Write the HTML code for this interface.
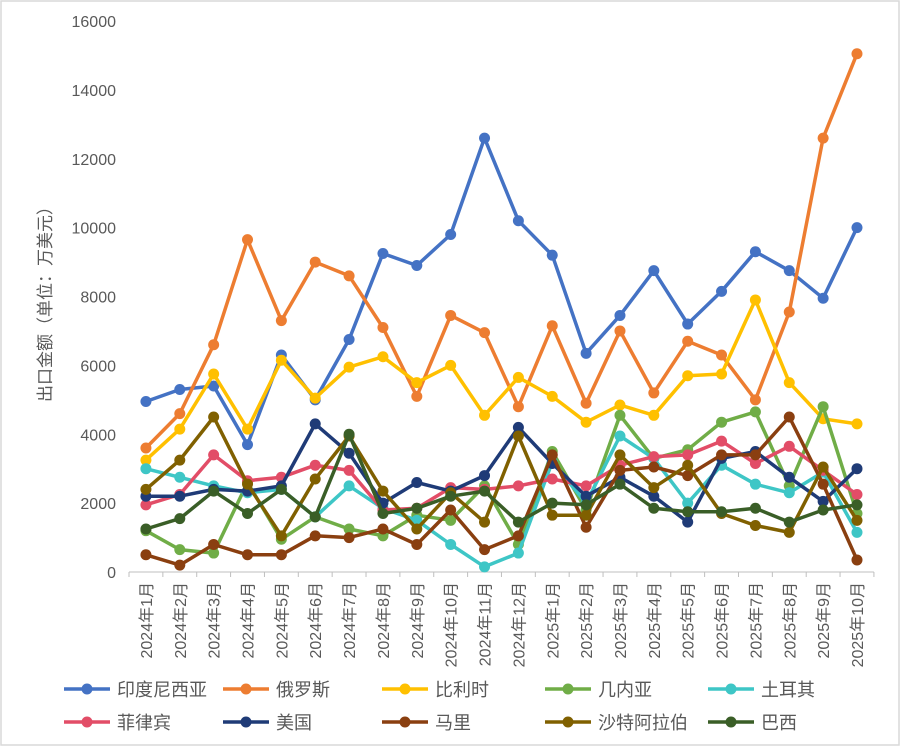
<!DOCTYPE html>
<html><head><meta charset="utf-8"><style>
body{margin:0;background:#fff;}
svg text{font-family:"Liberation Sans","Noto Sans CJK SC",sans-serif;}
</style></head><body>
<svg id="c" width="900" height="746" xmlns="http://www.w3.org/2000/svg">
<rect x="1" y="1" width="898" height="744" fill="#fff" stroke="#d9d9d9" stroke-width="1.5"/>
<g id="g"></g>
</svg>
<script>
const g=document.getElementById('g');
let h='';
const y0=572,ppu=551/16000,x0=129,dx=33.86;
const Y=v=>y0-v*ppu, X=i=>x0+dx*(i+0.5);
for(let v=0;v<=16000;v+=2000){h+=`<text x="116" y="${Y(v)+6}" font-size="16" fill="#595959" text-anchor="end">${v}</text>`;}
h+=`<line x1="${x0}" y1="${y0}" x2="${x0+22*dx}" y2="${y0}" stroke="#bfbfbf" stroke-width="1"/>`;
for(let i=0;i<=22;i++){h+=`<line x1="${x0+i*dx}" y1="${y0}" x2="${x0+i*dx}" y2="${y0+5}" stroke="#bfbfbf"/>`;}
const labs=[];for(let i=1;i<=12;i++)labs.push('2024年'+i+'月');for(let i=1;i<=10;i++)labs.push('2025年'+i+'月');
labs.forEach((l,i)=>{h+=`<text transform="translate(${X(i)+6},582) rotate(-90)" font-size="16" fill="#595959" text-anchor="end">${l}</text>`;});
h+=`<text transform="translate(51,300) rotate(-90)" font-size="17" fill="#595959" text-anchor="middle">出口金额（单位：万美元）</text>`;
const S=[
['印度尼西亚','#4472C4',[4950,5300,5400,3700,6300,5000,6750,9250,8900,9800,12600,10200,9200,6350,7450,8750,7200,8150,9300,8750,7950,10000]],
['俄罗斯','#ED7D31',[3600,4600,6600,9650,7300,9000,8600,7100,5100,7450,6950,4800,7150,4900,7000,5200,6700,6300,5000,7550,12600,15050]],
['比利时','#FFC000',[3250,4150,5750,4150,6150,5050,5950,6250,5500,6000,4550,5650,5100,4350,4850,4550,5700,5750,7900,5500,4450,4300]],
['几内亚','#70AD47',[1200,650,550,2600,950,1600,1250,1050,1650,1500,2500,800,3500,1800,4550,3300,3550,4350,4650,2500,4800,1700]],
['土耳其','#3EC6C6',[3000,2750,2500,2300,2400,1600,2500,1850,1500,800,150,550,3200,2000,3950,3300,2000,3100,2550,2300,2900,1150]],
['菲律宾','#E24D67',[1950,2250,3400,2650,2750,3100,2950,1800,1850,2450,2400,2500,2700,2500,3100,3350,3400,3800,3150,3650,2950,2250]],
['美国','#1F3B77',[2200,2200,2400,2350,2500,4300,3450,2000,2600,2350,2800,4200,3150,2200,2750,2200,1450,3300,3500,2750,2050,3000]],
['马里','#8A3F10',[500,200,800,500,500,1050,1000,1250,800,1800,650,1050,3400,1300,2950,3050,2800,3400,3400,4500,2550,350]],
['沙特阿拉伯','#806000',[2400,3250,4500,2550,1050,2700,3950,2350,1250,2300,1450,3950,1650,1650,3400,2450,3100,1700,1350,1150,3050,1500]],
['巴西','#3A5E27',[1250,1550,2350,1700,2400,1600,4000,1700,1850,2200,2350,1450,2000,1950,2550,1850,1750,1750,1850,1450,1800,1950]]];
S.forEach(s=>{
 const pts=s[2].map((v,i)=>X(i).toFixed(1)+','+Y(v).toFixed(1)).join(' ');
 h+=`<polyline points="${pts}" fill="none" stroke="${s[1]}" stroke-width="3.5" stroke-linejoin="round"/>`;
 s[2].forEach((v,i)=>{h+=`<circle cx="${X(i)}" cy="${Y(v)}" r="5.5" fill="${s[1]}"/>`;});
});
const lx=[64,223,382,545,708];
S.forEach((s,k)=>{
 const x=lx[k%5],y=k<5?689:722;
 h+=`<line x1="${x}" y1="${y}" x2="${x+46}" y2="${y}" stroke="${s[1]}" stroke-width="3.5"/><circle cx="${x+23}" cy="${y}" r="5.5" fill="${s[1]}"/>`;
 h+=`<text x="${x+53}" y="${y+7}" font-size="18" fill="#595959">${s[0]}</text>`;
});
g.innerHTML=h;
</script>
</body></html>
